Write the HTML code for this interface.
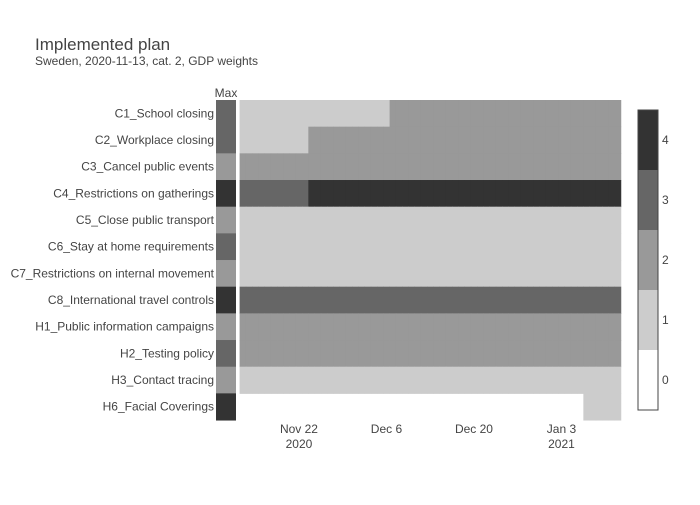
<!DOCTYPE html>
<html><head><meta charset="utf-8"><style>
body{margin:0;background:#fff;font-family:"Liberation Sans",sans-serif}
svg text{font-family:"Liberation Sans",sans-serif;fill:#444}
</style></head><body>
<svg id="chart" width="700" height="500">
<text x="35" y="50" font-size="17">Implemented plan</text>
<text x="35" y="65" font-size="12">Sweden, 2020-11-13, cat. 2, GDP weights</text>
<text x="226" y="97" font-size="12" text-anchor="middle">Max</text>
<g id="cells"></g>
<g id="xaxis"></g>
<g id="cbar"></g>
</svg>
<script>
const categories=["C1_School closing","C2_Workplace closing","C3_Cancel public events","C4_Restrictions on gatherings","C5_Close public transport","C6_Stay at home requirements","C7_Restrictions on internal movement","C8_International travel controls","H1_Public information campaigns","H2_Testing policy","H3_Contact tracing","H6_Facial Coverings"];
const maxValues=[3,3,2,4,2,3,2,4,2,3,2,4];
// each series: [startValue, changeDayIndex, endValue]; null = missing
const startValues=[1,1,2,3,1,1,1,3,2,2,1,null];
const changeDay=[24,11,0,11,0,0,0,0,0,0,0,55];
const endValues=[2,2,2,4,1,1,1,3,2,2,1,1];
const nDays=61; // 2020-11-13 .. 2021-01-12
const xTicks=[9,23,37,51];
const xTickLabels=["Nov 22","Dec 6","Dec 20","Jan 3"];
const xTickYear=["2020","","","2021"];
const cbarTicks=[0,1,2,3,4];
const colors=["#ffffff","#cccccc","#999999","#666666","#333333"];
const NS="http://www.w3.org/2000/svg";
const x0=239.6,dayW=6.25,y0=100,rowH=26.67;
const xs=d=>x0+d*dayW, ys=i=>y0+i*rowH;
function mk(t,a,p){const e=document.createElementNS(NS,t);for(const k in a)e.setAttribute(k,a[k]);p.appendChild(e);return e;}
const g=document.getElementById('cells');
categories.forEach((c,i)=>{
  const t=mk('text',{x:214,y:ys(i)+rowH/2+4,'font-size':12,'text-anchor':'end'},g);t.textContent=c;
  
  
  const m=mk('rect',{x:216,y:ys(i),width:20,height:rowH+0.5,fill:colors[maxValues[i]]},g);
  
  
  for(let d=0;d<nDays;d++){
    const v=d<changeDay[i]?startValues[i]:endValues[i];
    if(v===null)continue;
    const r=mk('rect',{x:xs(d),y:ys(i),width:dayW+0.4,height:rowH+0.5,fill:colors[v]},g);
    
    
  }
});
const xa=document.getElementById('xaxis');
xTicks.forEach((d,k)=>{
  const cx=xs(d)+dayW/2;
  const t=mk('text',{x:cx,y:433,'font-size':12,'text-anchor':'middle'},xa);t.textContent=xTickLabels[k];
  
  
  if(xTickYear[k]){const y=mk('text',{x:cx,y:448,'font-size':12,'text-anchor':'middle'},xa);y.textContent=xTickYear[k];
  
  }
});
const cb=document.getElementById('cbar');
const cbTop=110,cbH=300,segH=cbH/5;
cbarTicks.forEach(v=>{
  const yy=cbTop+(4-v)*segH;
  const r=mk('rect',{x:638,y:yy,width:20,height:segH,fill:colors[v]},cb);
  
  
  const t=mk('text',{x:662,y:yy+segH/2+4,'font-size':12},cb);t.textContent=v;
  
  
});
const o=mk('rect',{x:638,y:cbTop,width:20,height:cbH,fill:'none',stroke:'#444','stroke-width':1},cb);


</script>
</body></html>
